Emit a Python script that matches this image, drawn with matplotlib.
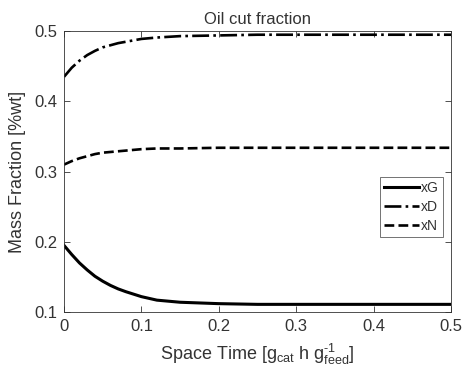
import matplotlib
matplotlib.use("Agg")
import matplotlib.pyplot as plt

# values
space_time = [0, 0.01, 0.02, 0.03, 0.04, 0.05, 0.06, 0.07, 0.08, 0.10, 0.12,
              0.15, 0.20, 0.25, 0.30, 0.40, 0.50]
xG = [0.195, 0.182, 0.170, 0.160, 0.151, 0.144, 0.138, 0.133, 0.129, 0.122,
      0.117, 0.114, 0.112, 0.111, 0.111, 0.111, 0.111]
xD = [0.435, 0.448, 0.458, 0.466, 0.472, 0.477, 0.480, 0.483, 0.485, 0.489,
      0.491, 0.493, 0.494, 0.495, 0.495, 0.495, 0.495]
xN = [0.310, 0.315, 0.319, 0.322, 0.325, 0.327, 0.328, 0.329, 0.330, 0.332,
      0.333, 0.333, 0.334, 0.334, 0.334, 0.334, 0.334]

plt.rcParams['font.family'] = ['Liberation Sans', 'DejaVu Sans']
plt.rcParams['mathtext.fontset'] = 'custom'
plt.rcParams['mathtext.rm'] = 'Liberation Sans'
plt.rcParams['mathtext.it'] = 'Liberation Sans'

txt = '#333333'
fig = plt.figure(figsize=(4.62, 3.76), dpi=100)
ax = fig.add_axes([0.1385, 0.170, 0.8377, 0.747])

ax.plot(space_time, xG, '-', color='black', linewidth=2.2, label='xG')
ax.plot(space_time, xD, '-.', color='black', linewidth=1.9, label='xD')
ax.plot(space_time, xN, '--', color='black', linewidth=1.9, label='xN')

ax.set_xlim(0, 0.5)
ax.set_ylim(0.1, 0.5)
ax.set_xticks([0, 0.1, 0.2, 0.3, 0.4, 0.5])
ax.set_xticklabels(['0', '0.1', '0.2', '0.3', '0.4', '0.5'])
ax.set_yticks([0.1, 0.2, 0.3, 0.4, 0.5])
ax.set_yticklabels(['0.1', '0.2', '0.3', '0.4', '0.5'])
ax.tick_params(direction='in', top=True, right=True, labelsize=12,
               colors=txt, length=4, width=0.6, pad=5)
for s in ax.spines.values():
    s.set_color(txt)
    s.set_linewidth(0.6)

ax.set_title('Oil cut fraction', fontsize=12, color=txt, pad=5)
ax.set_ylabel('Mass Fraction [%wt]', fontsize=13, color=txt, labelpad=6)
ax.set_xlabel('Space Time [g$_{\\mathrm{cat}}$ h g$_{\\mathrm{feed}}^{\\mathrm{\u20101}}$]',
              fontsize=13, color=txt, labelpad=6)

leg = ax.legend(loc='center right', bbox_to_anchor=(0.98, 0.375), fontsize=10,
                frameon=True, fancybox=False, handlelength=2.5, borderpad=0.3,
                labelspacing=0.35, handletextpad=0.15, borderaxespad=0)
leg.get_frame().set_edgecolor(txt)
leg.get_frame().set_linewidth(0.6)
for t in leg.get_texts():
    t.set_color(txt)

fig.savefig('out.png', dpi=100)
